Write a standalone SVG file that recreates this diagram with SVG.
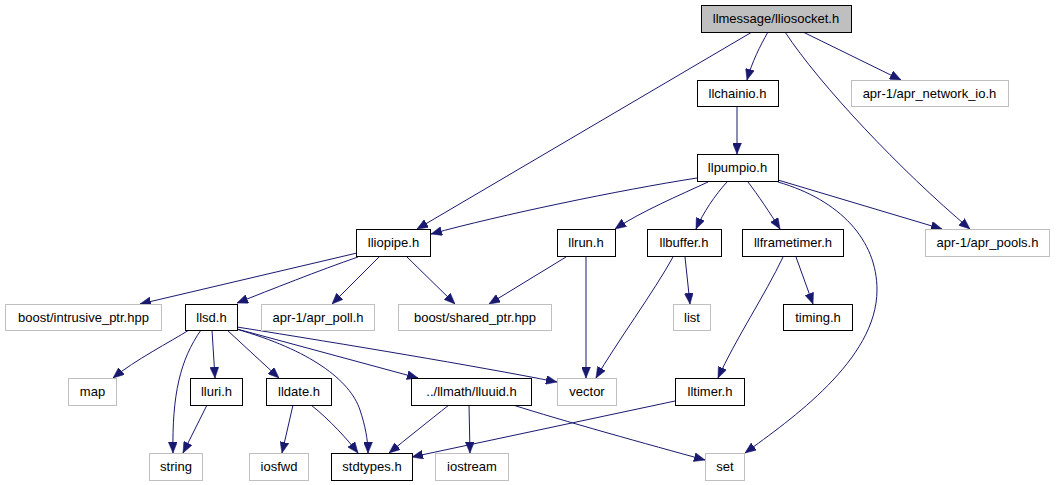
<svg xmlns="http://www.w3.org/2000/svg" width="1061" height="485" viewBox="0 0 1061 485">
<style>
.n rect{fill:#fff;stroke:#000;stroke-width:1}
.g rect{fill:#fff;stroke:#bfbfbf;stroke-width:1}
.r rect{fill:#bfbfbf;stroke:#000;stroke-width:1}
text{font-family:"Liberation Sans",Arial,sans-serif;font-size:13px;text-anchor:middle;fill:#000}
#edges path{fill:none;stroke:#191970;stroke-width:1;marker-end:url(#ah)}
</style>
<defs>
<marker id="ah" viewBox="0 0 11 9" refX="11" refY="4.5" markerWidth="11" markerHeight="9" markerUnits="userSpaceOnUse" orient="auto">
<polygon points="0,0 11,4.5 0,9" fill="#191970" stroke="#191970" stroke-width="0.5"/>
</marker>
</defs>
<rect width="1061" height="485" fill="#fff"/>
<g id="edges">
<path d="M752,32 L417,229"/>
<path d="M768,32 C760,46 752,62 747,80"/>
<path d="M803,32 L901,80"/>
<path d="M785,32 C820,85 900,170 970,229"/>
<path d="M737,106 L737,154"/>
<path d="M697,178 C620,190 500,215 431,234"/>
<path d="M708,182 C680,195 640,212 615,229"/>
<path d="M727,182 C715,195 703,213 696,229"/>
<path d="M748,182 C758,195 770,213 780,229"/>
<path d="M778,180 L942,229"/>
<path d="M778,182 C840,200 877,240 877,290 C877,360 790,420 745,453"/>
<path d="M357,253 L140,304"/>
<path d="M358,257 C320,270 270,290 237,303"/>
<path d="M379,257 L332,304"/>
<path d="M407,257 L455,304"/>
<path d="M566,257 L489,304"/>
<path d="M586,257 L586,378"/>
<path d="M673,257 C655,290 615,345 596,378"/>
<path d="M685,257 L690,304"/>
<path d="M783,257 C765,295 735,340 718,378"/>
<path d="M796,257 L813,304"/>
<path d="M189,330 C170,342 135,360 113,378"/>
<path d="M201,330 C180,360 172,395 173,453"/>
<path d="M212,330 L215,378"/>
<path d="M227,330 L279,378"/>
<path d="M236,329 C310,350 350,380 360,410 C365,425 368,440 368,453"/>
<path d="M237,329 L418,378"/>
<path d="M237,327 C350,345 470,365 557,382"/>
<path d="M207,405 L183,453"/>
<path d="M293,405 L282,453"/>
<path d="M311,405 C330,420 348,440 358,453"/>
<path d="M449,405 C430,420 405,440 389,453"/>
<path d="M469,405 L470,453"/>
<path d="M513,405 C560,420 650,445 705,460"/>
<path d="M675,401 L412,457"/>
</g>
<g id="lliosocket" class="r"><rect x="701.5" y="5.5" width="150" height="27"/><text x="776" y="23">llmessage/lliosocket.h</text></g>
<g id="llchainio" class="n"><rect x="697.5" y="80.5" width="81" height="26"/><text x="737.5" y="98">llchainio.h</text></g>
<g id="apr_network_io" class="g"><rect x="851.5" y="80.5" width="157" height="26"/><text x="929.5" y="98">apr-1/apr_network_io.h</text></g>
<g id="llpumpio" class="n"><rect x="697.5" y="154.5" width="81" height="27"/><text x="737.5" y="172">llpumpio.h</text></g>
<g id="llrun" class="n"><rect x="557.5" y="229.5" width="58" height="27"/><text x="586" y="247">llrun.h</text></g>
<g id="llbuffer" class="n"><rect x="647.5" y="229.5" width="74" height="27"/><text x="684" y="247">llbuffer.h</text></g>
<g id="llframetimer" class="n"><rect x="742.5" y="229.5" width="101" height="27"/><text x="793" y="247">llframetimer.h</text></g>
<g id="apr_pools" class="g"><rect x="925.5" y="229.5" width="124" height="27"/><text x="987.5" y="247">apr-1/apr_pools.h</text></g>
<g id="lliopipe" class="n"><rect x="356.5" y="229.5" width="74" height="27"/><text x="393.5" y="247">lliopipe.h</text></g>
<g id="intrusive_ptr" class="g"><rect x="5.5" y="304.5" width="156" height="26"/><text x="83.5" y="322">boost/intrusive_ptr.hpp</text></g>
<g id="llsd" class="n"><rect x="185.5" y="304.5" width="52" height="26"/><text x="211.5" y="322">llsd.h</text></g>
<g id="apr_poll" class="g"><rect x="261.5" y="304.5" width="113" height="26"/><text x="318" y="322">apr-1/apr_poll.h</text></g>
<g id="shared_ptr" class="g"><rect x="398.5" y="304.5" width="153" height="26"/><text x="475" y="322">boost/shared_ptr.hpp</text></g>
<g id="list" class="g"><rect x="673.5" y="304.5" width="37" height="26"/><text x="692" y="322">list</text></g>
<g id="timing" class="n"><rect x="783.5" y="304.5" width="69" height="26"/><text x="818" y="322">timing.h</text></g>
<g id="map" class="g"><rect x="68.5" y="378.5" width="48" height="27"/><text x="92.5" y="396">map</text></g>
<g id="lluri" class="n"><rect x="190.5" y="378.5" width="52" height="27"/><text x="216.5" y="396">lluri.h</text></g>
<g id="lldate" class="n"><rect x="266.5" y="378.5" width="65" height="27"/><text x="299" y="396">lldate.h</text></g>
<g id="lluuid" class="n"><rect x="411.5" y="378.5" width="120" height="27"/><text x="471.5" y="396">../llmath/lluuid.h</text></g>
<g id="vector" class="g"><rect x="557.5" y="378.5" width="59" height="27"/><text x="587" y="396">vector</text></g>
<g id="lltimer" class="n"><rect x="675.5" y="378.5" width="69" height="27"/><text x="710" y="396">lltimer.h</text></g>
<g id="string" class="g"><rect x="149.5" y="453.5" width="53" height="27"/><text x="176" y="471">string</text></g>
<g id="iosfwd" class="g"><rect x="249.5" y="453.5" width="59" height="27"/><text x="279" y="471">iosfwd</text></g>
<g id="stdtypes" class="n"><rect x="331.5" y="453.5" width="81" height="27"/><text x="372" y="471">stdtypes.h</text></g>
<g id="iostream" class="g"><rect x="435.5" y="453.5" width="73" height="27"/><text x="472" y="471">iostream</text></g>
<g id="set" class="g"><rect x="705.5" y="453.5" width="39" height="27"/><text x="725" y="471">set</text></g>
</svg>
